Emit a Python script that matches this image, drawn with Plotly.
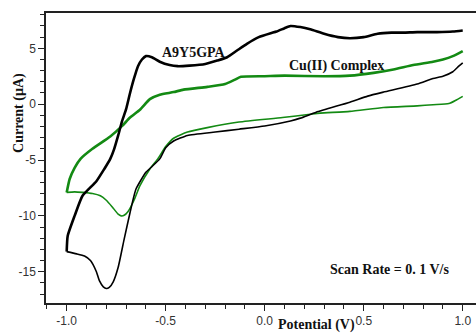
import plotly.graph_objects as go

# A9Y5GPA - forward (anodic) sweep
a9_fwd_x = [-1.0, -0.995, -0.96, -0.92, -0.85, -0.81, -0.78, -0.76, -0.74, -0.72, -0.70, -0.68, -0.66,
            -0.64, -0.62, -0.60, -0.57, -0.53, -0.48, -0.44, -0.38, -0.30, -0.24, -0.19, -0.14, -0.09,
            -0.03, 0.03, 0.06, 0.10, 0.13, 0.18, 0.23, 0.30, 0.37, 0.43, 0.50, 0.57, 0.64, 0.70, 0.77,
            0.87, 0.95, 1.0]
a9_fwd_y = [-13.2, -11.8, -10.0, -8.2, -6.9, -5.8, -4.9, -4.0, -2.8, -1.5, -0.45, 1.0, 2.3,
            3.4, 4.0, 4.3, 4.2, 3.8, 3.5, 3.4, 3.45, 3.6, 3.9, 4.2, 4.8, 5.4,
            6.0, 6.35, 6.5, 6.8, 7.0, 6.9, 6.7, 6.3, 6.0, 5.9, 6.0, 6.3, 6.4, 6.4, 6.45,
            6.45, 6.5, 6.6]
# A9Y5GPA - reverse (cathodic) sweep
a9_rev_x = [1.0, 0.98, 0.95, 0.90, 0.85, 0.77, 0.60, 0.52, 0.43, 0.26, 0.18, 0.13, 0.0, -0.13, -0.25,
            -0.39, -0.46, -0.50, -0.53, -0.57, -0.60, -0.65, -0.68, -0.71, -0.74, -0.765, -0.785, -0.80,
            -0.815, -0.835, -0.85, -0.88, -0.91, -0.95, -1.0]
a9_rev_y = [3.7, 3.4, 2.9, 2.5, 2.3, 1.8, 1.08, 0.72, 0.18, -0.72, -1.25, -1.5, -1.95, -2.24, -2.5,
            -2.8, -3.3, -3.9, -4.9, -5.6, -6.1, -7.6, -9.7, -12.1, -14.6, -15.9, -16.4, -16.5,
            -16.35, -15.8, -15.0, -14.0, -13.6, -13.4, -13.2]

# Cu(II) Complex - forward sweep
cu_fwd_x = [-1.0, -0.985, -0.96, -0.93, -0.87, -0.78, -0.72, -0.68, -0.63, -0.58, -0.53, -0.46, -0.41,
            -0.29, -0.20, -0.15, -0.12, 0.0, 0.10, 0.30, 0.43, 0.55, 0.65, 0.75, 0.85, 0.90, 0.95, 1.0]
cu_fwd_y = [-7.9, -6.7, -5.7, -4.9, -4.0, -2.9, -1.95, -1.2, -0.5, 0.45, 0.85, 1.08, 1.3,
            1.55, 1.8, 2.2, 2.45, 2.5, 2.55, 2.5, 2.55, 2.8, 3.1, 3.5, 3.8, 4.0, 4.3, 4.75]
# Cu(II) Complex - reverse sweep
cu_rev_x = [1.0, 0.97, 0.93, 0.85, 0.77, 0.60, 0.43, 0.28, 0.23, 0.09, -0.13, -0.29, -0.39, -0.46,
            -0.50, -0.54, -0.58, -0.63, -0.66, -0.69, -0.71, -0.725, -0.74, -0.77, -0.80, -0.83, -0.87,
            -0.92, -0.96, -1.0]
cu_rev_y = [0.7, 0.4, 0.05, -0.05, -0.15, -0.3, -0.65, -0.8, -0.9, -1.2, -1.6, -2.1, -2.5, -3.05,
            -3.8, -4.9, -5.8, -7.3, -8.6, -9.6, -9.95, -10.0, -9.85, -9.2, -8.6, -8.2, -8.0,
            -7.9, -7.85, -7.9]

x_tick_vals = [-1.0, -0.5, 0.0, 0.5, 1.0]
x_tick_text = ["-1.0", "-0.5", "0.0", "0.5", "1.0"]
y_tick_vals = [-15, -10, -5, 0, 5]
y_tick_text = ["-15", "-10", "-5", "0", "5"]

BLACK = "#000000"
GREEN = "#138a13"

fig = go.Figure()
fig.add_trace(go.Scatter(x=cu_rev_x, y=cu_rev_y, mode="lines",
                         line=dict(color=GREEN, width=1.6, shape="spline", smoothing=0.5)))
fig.add_trace(go.Scatter(x=a9_rev_x, y=a9_rev_y, mode="lines",
                         line=dict(color=BLACK, width=1.6, shape="spline", smoothing=0.5)))
fig.add_trace(go.Scatter(x=cu_fwd_x, y=cu_fwd_y, mode="lines",
                         line=dict(color=GREEN, width=2.6, shape="spline", smoothing=0.5)))
fig.add_trace(go.Scatter(x=a9_fwd_x, y=a9_fwd_y, mode="lines",
                         line=dict(color=BLACK, width=2.6, shape="spline", smoothing=0.5)))

label_font = dict(family="Liberation Serif, Times New Roman, serif", size=14, color="#111111")

fig.update_layout(
    width=476, height=334,
    margin=dict(l=46, r=0, t=13, b=31),
    paper_bgcolor="white", plot_bgcolor="white",
    showlegend=False,
    xaxis=dict(range=[-1.1045, 1.067], showgrid=False, zeroline=False,
               showline=True, linecolor="#222222", linewidth=1.5, mirror=True,
               tickmode="array", tickvals=x_tick_vals, ticktext=x_tick_text,
               ticks="outside", ticklen=6, tickwidth=1, tickcolor="#222222",
               tickfont=dict(family="Liberation Sans, Arial, sans-serif", size=12, color="#333333"),
               minor=dict(dtick=0.1, tick0=0, ticks="outside", ticklen=4, tickcolor="#222222", showgrid=False)),
    yaxis=dict(range=[-17.8, 8.16], showgrid=False, zeroline=False,
               showline=True, linecolor="#222222", linewidth=1.5,
               tickmode="array", tickvals=y_tick_vals, ticktext=y_tick_text,
               ticks="outside", ticklen=6, tickwidth=1, tickcolor="#222222",
               tickfont=dict(family="Liberation Sans, Arial, sans-serif", size=12, color="#333333"),
               minor=dict(dtick=1, tick0=0, ticks="outside", ticklen=4, tickcolor="#222222", showgrid=False)),
    annotations=[
        dict(text="<b>A9Y5GPA</b>", x=-0.356, y=4.66, xref="x", yref="y", showarrow=False, font=label_font,
             xanchor="center", yanchor="middle"),
        dict(text="<b>Cu(II) Complex</b>", x=0.364, y=3.4, xref="x", yref="y", showarrow=False, font=label_font,
             xanchor="center", yanchor="middle"),
        dict(text="<b>Scan Rate = 0. 1 V/s</b>", x=0.63, y=-14.8, xref="x", yref="y", showarrow=False,
             font=label_font, xanchor="center", yanchor="middle"),
        dict(text="<b>Potential (V)</b>", x=0.628, y=-0.077, xref="paper", yref="paper", showarrow=False,
             font=label_font, xanchor="center", yanchor="middle"),
        dict(text="<b>Current (\u00b5A)</b>", x=-0.063, y=0.655, xref="paper", yref="paper", showarrow=False,
             textangle=-90, font=label_font, xanchor="center", yanchor="middle"),
    ],
)

fig.write_html("out.html")
